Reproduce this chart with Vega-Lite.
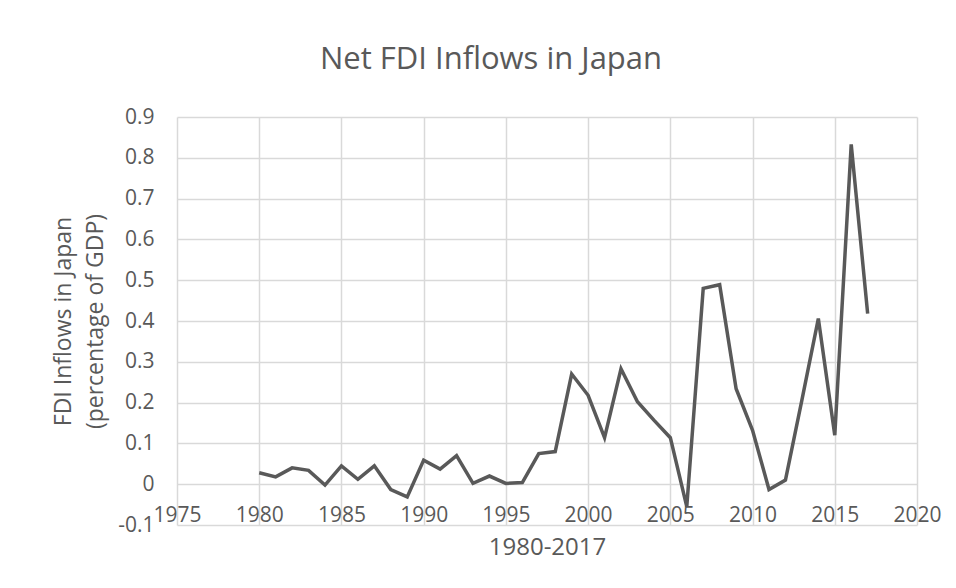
{
  "$schema": "https://vega.github.io/schema/vega-lite/v6.json",
  "autosize": "none",
  "width": 740,
  "height": 408,
  "padding": {"left": 177, "top": 117, "right": 39, "bottom": 63},
  "background": "white",
  "title": {
    "text": "Net FDI Inflows in Japan",
    "anchor": "middle",
    "frame": "group",
    "dx": -56,
    "baseline": "alphabetic",
    "offset": 6,
    "font": "Open Sans",
    "fontSize": 31,
    "fontWeight": "normal",
    "color": "#595959"
  },
  "config": {
    "view": {"stroke": null},
    "axis": {
      "labelFont": "Open Sans",
      "titleFont": "Open Sans",
      "labelColor": "#595959",
      "titleColor": "#595959",
      "titleFontWeight": "normal",
      "gridColor": "#d9d9d9",
      "gridWidth": 1.5,
      "gridOpacity": 1,
      "domain": false,
      "ticks": false
    }
  },
  "data": {
    "values": [
      {"year": 1980, "fdi": 0.028},
      {"year": 1981, "fdi": 0.018},
      {"year": 1982, "fdi": 0.040},
      {"year": 1983, "fdi": 0.034},
      {"year": 1984, "fdi": -0.002},
      {"year": 1985, "fdi": 0.045},
      {"year": 1986, "fdi": 0.012},
      {"year": 1987, "fdi": 0.045},
      {"year": 1988, "fdi": -0.013},
      {"year": 1989, "fdi": -0.031},
      {"year": 1990, "fdi": 0.059},
      {"year": 1991, "fdi": 0.037},
      {"year": 1992, "fdi": 0.070},
      {"year": 1993, "fdi": 0.002},
      {"year": 1994, "fdi": 0.020},
      {"year": 1995, "fdi": 0.002},
      {"year": 1996, "fdi": 0.004},
      {"year": 1997, "fdi": 0.075},
      {"year": 1998, "fdi": 0.080},
      {"year": 1999, "fdi": 0.270},
      {"year": 2000, "fdi": 0.218},
      {"year": 2001, "fdi": 0.114},
      {"year": 2002, "fdi": 0.283},
      {"year": 2003, "fdi": 0.202},
      {"year": 2004, "fdi": 0.157},
      {"year": 2005, "fdi": 0.114},
      {"year": 2006, "fdi": -0.055},
      {"year": 2007, "fdi": 0.480},
      {"year": 2008, "fdi": 0.489},
      {"year": 2009, "fdi": 0.234},
      {"year": 2010, "fdi": 0.132},
      {"year": 2011, "fdi": -0.013},
      {"year": 2012, "fdi": 0.010},
      {"year": 2013, "fdi": 0.206},
      {"year": 2014, "fdi": 0.406},
      {"year": 2015, "fdi": 0.120},
      {"year": 2016, "fdi": 0.833},
      {"year": 2017, "fdi": 0.418}
    ]
  },
  "mark": {"type": "line", "color": "#595959", "strokeWidth": 3.5},
  "encoding": {
    "x": {
      "field": "year",
      "type": "quantitative",
      "scale": {"domain": [1975, 2020], "nice": false, "zero": false},
      "axis": {
        "values": [1975, 1980, 1985, 1990, 1995, 2000, 2005, 2010, 2015, 2020],
        "format": "d",
        "labelFontSize": 21,
        "labelBaseline": "middle",
        "labelPadding": -10,
        "labelOverlap": false,
        "labelFlush": false,
        "title": "1980-2017",
        "titleFontSize": 24,
        "titleBaseline": "alphabetic",
        "titleY": 29
      }
    },
    "y": {
      "field": "fdi",
      "type": "quantitative",
      "scale": {"domain": [-0.1, 0.9], "nice": false, "zero": false},
      "axis": {
        "values": [-0.1, 0, 0.1, 0.2, 0.3, 0.4, 0.5, 0.6, 0.7, 0.8, 0.9],
        "labelExpr": "datum.value == 0 ? '0' : replace(format(datum.value, '.1f'), '−', '-')",
        "labelFontSize": 21,
        "labelPadding": 23,
        "labelOverlap": false,
        "labelFlush": false,
        "title": ["FDI Inflows in Japan", "(percentage of GDP)"],
        "titleFontSize": 23,
        "titleLineHeight": 32,
        "titleBaseline": "middle",
        "titleX": -114
      }
    }
  }
}
